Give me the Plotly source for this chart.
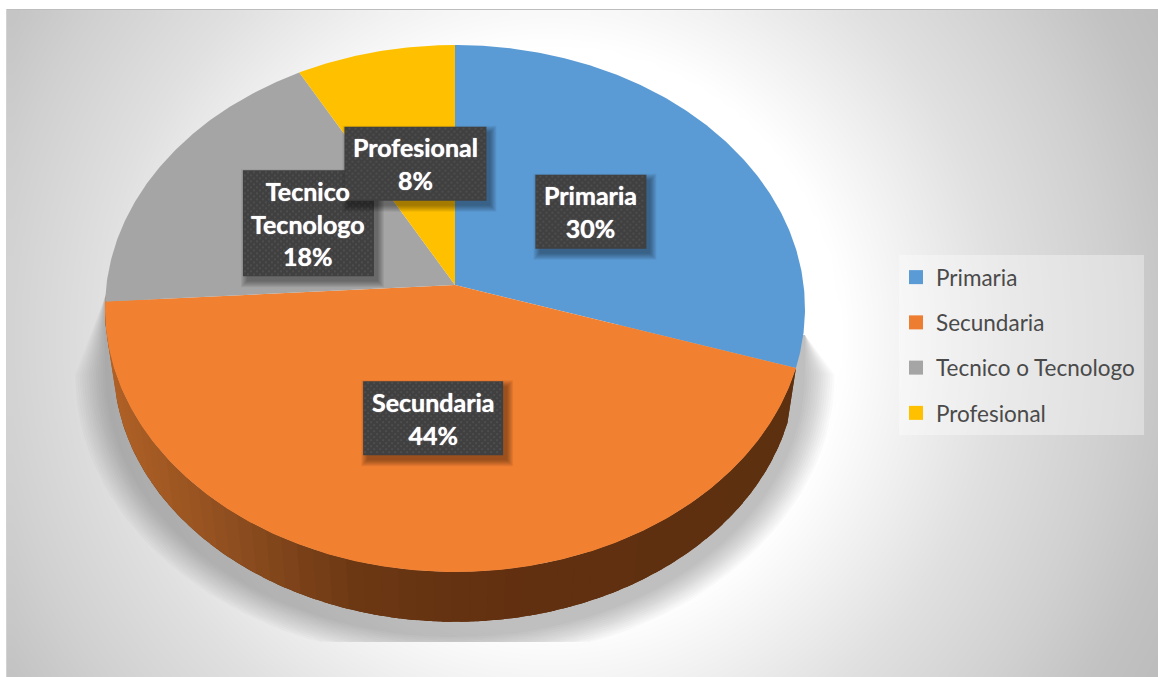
"""Nivel educativo: pie con perspectiva, dibujado con Plotly."""

import numpy as np
import plotly.graph_objects as go

categories = ["Primaria", "Secundaria", "Tecnico o Tecnologo", "Profesional"]
label_names = ["Primaria", "Secundaria", "Tecnico<br>Tecnologo", "Profesional"]
values = [30, 44, 18, 8]
slice_colors = ["#5B9BD5", "#F28031", "#A5A5A5", "#FFC000"]
legend_colors = ["#5B9BD5", "#ED7D31", "#A5A5A5", "#FFC000"]

WIDTH, HEIGHT = 1158, 677
# perspective pie: apex, radii and foreshortening of the top face
CX, CY, RX, RY, K = 455, 285, 348.6, 261.4, 0.0892
WALL_SCALE, WALL_Y = 0.975, 342


def project(deg, r=1.0, scale=1.0, cy=CY):
    """Pie angle (clockwise from 12 o'clock) and radius to pixel coordinates."""
    t = np.radians(deg)
    u, v = r * np.sin(t), r * np.cos(t)
    w = 1 + K * v
    return CX + scale * RX * u / w, cy - scale * RY * v / w


def add_poly(fig, xs, ys, color, **kw):
    fig.add_trace(go.Scatter(
        x=list(xs), y=list(ys), mode="lines", fill="toself", fillcolor=color,
        line=dict(width=0), hoverinfo="skip", showlegend=False, **kw,
    ))


def background():
    # cell centres sit half a cell inside the frame so the edge lands on x=7, y=9
    xs = np.arange(13, WIDTH + 13, 12.0)
    ys = np.arange(15, HEIGHT + 13, 12.0)
    gx, gy = np.meshgrid(xs, ys)
    d = np.hypot(gx - 550, gy - 336)
    z = np.interp(d, [0, 290, 450, 560, 640, 700], [255, 255, 224, 208, 194, 188])
    return go.Heatmap(
        x=xs, y=ys, z=z, zmin=0, zmax=255, zsmooth="best", showscale=False,
        colorscale=[[0, "#000000"], [1, "#ffffff"]], hoverinfo="skip",
    )


def add_shadow(fig):
    # soft ground shadow, layered so it fades out, cut at the floor line
    for s in np.linspace(1.0, 1.085, 14):
        deg = np.arange(95, 266, 2.0)
        x, y = project(deg, scale=s, cy=350)
        y = np.minimum(y, 642)
        add_poly(fig, [805, *x, 105], [335, *y, 297], "rgba(60,60,60,0.028)")


def wall_color(x):
    r = np.interp(x, [110, 220, 350, 500, 800], [178, 146, 108, 98, 92])
    g = np.interp(x, [110, 220, 350, 500, 800], [98, 80, 56, 48, 48])
    b = np.interp(x, [110, 220, 350, 500, 800], [38, 32, 20, 16, 16])
    return f"rgb({r:.0f},{g:.0f},{b:.0f})"


def add_wall(fig, start, end):
    # one solid base first, so the seams between the shaded strips cannot show through
    deg = np.linspace(start, end, 120)
    xt, yt = project(deg)
    xb, yb = project(deg, scale=WALL_SCALE, cy=WALL_Y)
    add_poly(fig, [*xt, *xb[::-1]], [*yt, *yb[::-1]], wall_color(450))
    edges = np.linspace(start, end, 60)
    for a, b in zip(edges[:-1], edges[1:]):
        xa, ya = project(a)
        xb1, yb1 = project(b + 1.5)
        xc, yc = project(b + 1.5, scale=WALL_SCALE, cy=WALL_Y)
        xd, yd = project(a, scale=WALL_SCALE, cy=WALL_Y)
        add_poly(fig, [xa, xb1, xc, xd], [ya, yb1, yc, yd], wall_color((xc + xd) / 2))


def add_label(fig, deg, text, box_w, box_h, nudge):
    x0, y0 = project(deg, r=0.5)
    x0, y0 = x0 + nudge[0], y0 + nudge[1]
    left, right = x0 - box_w / 2, x0 + box_w / 2
    top, bottom = y0 - box_h / 2, y0 + box_h / 2
    for grow in (6, 5, 4, 3, 2, 1, 0):
        add_poly(
            fig,
            [left + 4 - grow, right + 4 + grow, right + 4 + grow, left + 4 - grow],
            [top + 5 - grow, top + 5 - grow, bottom + 5 + grow, bottom + 5 + grow],
            "rgba(0,0,0,0.06)",
        )
    add_poly(fig, [left, right, right, left], [top, top, bottom, bottom], "#404040")
    dots_x, dots_y = [], []
    for row, yy in enumerate(np.arange(top + 2, bottom, 3.0)):
        start = left + (2 if row % 2 else 5)
        for xx in np.arange(start, right - 1, 6.0):
            dots_x.append(xx)
            dots_y.append(yy)
    fig.add_trace(go.Scatter(
        x=dots_x, y=dots_y, mode="markers", hoverinfo="skip", showlegend=False,
        marker=dict(symbol="square", size=2, color="#4e4e4e", line=dict(width=0)),
    ))
    return dict(
        x=x0, y=y0, text=f"<b>{text}</b>", showarrow=False, align="center",
        font=dict(family="Lato", size=25, color="#ffffff", shadow="0 0 1px #ffffff"),
    )


fig = go.Figure()
fig.add_trace(background())
add_shadow(fig)

total = sum(values)
ends = np.cumsum(values) / total * 360
starts = np.concatenate([[0], ends[:-1]])

# only the front-facing orange wall shows under the top face
add_wall(fig, starts[1], ends[1])

for start, end, color, name in zip(starts, ends, slice_colors, categories):
    deg = np.linspace(start, end, int(end - start) * 2 + 2)
    x, y = project(deg)
    add_poly(fig, [CX, *x], [CY, *y], color, name=name)

# legend panel sits behind the legend itself
fig.add_shape(
    type="rect", x0=899, x1=1144, y0=255, y1=435, layer="above",
    fillcolor="rgba(255,255,255,0.35)", line_width=0,
)
# thin darker rim along the top and left of the frame
fig.add_shape(type="line", x0=7, x1=WIDTH, y0=9.5, y1=9.5, layer="above",
              line=dict(color="#bdbdbd", width=1))
fig.add_shape(type="line", x0=6.5, x1=6.5, y0=9, y1=HEIGHT, layer="above",
              line=dict(color="#d2d2d2", width=1))

for name, color in zip(categories, legend_colors):
    fig.add_trace(go.Scatter(
        x=[None], y=[None], mode="markers", name=name, legendgroup=name,
        marker=dict(symbol="square", size=14, color=color),
    ))

box_sizes = [(111, 74), (140, 74), (131, 106), (142, 74)]
label_nudges = [(-1.5, 1.5), (1, -2.5), (3, 0), (2, 0)]
annotations = []
for start, end, text, val, (bw, bh), nudge in zip(
    starts, ends, label_names, values, box_sizes, label_nudges
):
    annotations.append(add_label(fig, (start + end) / 2, f"{text}<br>{val}%", bw, bh, nudge))

fig.update_layout(
    width=WIDTH, height=HEIGHT, margin=dict(l=0, r=0, t=0, b=0),
    paper_bgcolor="white", plot_bgcolor="white",
    xaxis=dict(range=[0, WIDTH], visible=False, fixedrange=True),
    yaxis=dict(range=[HEIGHT, 0], visible=False, fixedrange=True),
    annotations=annotations,
    legend=dict(
        x=896 / WIDTH, y=1 - 256 / HEIGHT, xanchor="left", yanchor="top",
        bgcolor="rgba(0,0,0,0)", tracegroupgap=13,
        font=dict(family="Lato", size=22.5, color="#4a4a4a"),
    ),
)

fig.write_html(
    "out.html",
    config={"displayModeBar": False},
    post_script="document.body.style.margin='0';",
)
